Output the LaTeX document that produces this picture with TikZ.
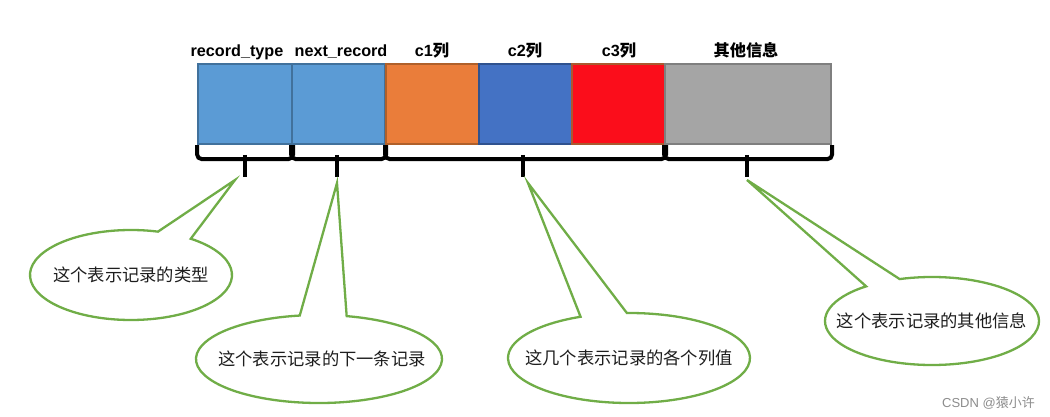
\documentclass[tikz,border=0pt]{standalone}
\usepackage{fontspec}
\setmainfont{Liberation Sans}
\newfontfamily\cjk{Noto Sans CJK SC}
\definecolor{blueA}{HTML}{5B9BD5}
\definecolor{blueAd}{HTML}{41719C}
\definecolor{orangeA}{HTML}{EA7D3A}
\definecolor{orangeAd}{HTML}{B0602A}
\definecolor{blueB}{HTML}{4472C4}
\definecolor{blueBd}{HTML}{2F528F}
\definecolor{redA}{HTML}{FB0D1B}
\definecolor{redAd}{HTML}{A85A30}
\definecolor{grayA}{HTML}{A5A5A5}
\definecolor{grayAd}{HTML}{7F7F7F}
\definecolor{greenA}{HTML}{70AD47}
\definecolor{txt}{HTML}{1E1E1E}
\tikzset{
  cellbox/.style={rectangle, line width=2.2pt, inner sep=0pt, minimum height=80pt, anchor=north west},
  lbl/.style={anchor=base, font=\fontsize{16.2}{19}\selectfont\bfseries, text=black},
  brace/.style={line width=4pt, rounded corners=5pt, black},
  stem/.style={line width=4.5pt, black},
  bubble/.style={draw=greenA, line width=2.3pt, fill=white, line join=miter},
  btext/.style={font=\fontsize{17.3}{20}\selectfont\cjk, text=txt, inner sep=0pt},
}
\newcommand\mybubble[6]{% #1 centre node, #2 rx, #3 ry, #4 start, #5 end, #6 tip
  \draw[bubble] (#6) -- ([shift={(#1.center)}]#4:#2 and #3)
    arc[start angle=#4, end angle=#5, x radius=#2, y radius=#3] -- cycle;}
\begin{document}
\begin{tikzpicture}[x=1pt,y=1pt]
\useasboundingbox (0,0) rectangle (1050,-417);
% cells
\node[cellbox, fill=blueA, draw=blueAd, minimum width=94pt] (b1) at (197,-63) {};
\node[cellbox, fill=blueA, draw=blueAd, minimum width=93pt] (b2) at (291,-63) {};
\node[cellbox, fill=orangeA, draw=orangeAd, minimum width=93pt] (b3) at (385,-63) {};
\node[cellbox, fill=blueB, draw=blueBd, minimum width=93pt] (b4) at (478,-63) {};
\node[cellbox, fill=redA, draw=redAd, minimum width=93pt] (b5) at (571,-63) {};
\node[cellbox, fill=grayA, draw=grayAd, minimum width=166pt] (b6) at (664,-63) {};
% labels
\node[lbl] (l1) at (237,-57) {record\_type};
\node[lbl] (l2) at (341,-57) {next\_record};
\node[lbl] (l3) at (432,-57) {c1{\cjk\bfseries 列}};
\node[lbl] (l4) at (525,-57) {c2{\cjk\bfseries 列}};
\node[lbl] (l5) at (619,-57) {c3{\cjk\bfseries 列}};
\node[lbl] (l6) at (746,-57) {{\cjk\bfseries 其他信息}};
% braces
\draw[brace] (b1.south west) -- ++(0,-14) -| (b1.south east);
\draw[brace] (b2.south west) -- ++(0,-14) -| (b2.south east);
\draw[brace] (b3.south west) -- ++(0,-14) -| (b5.south east);
\draw[brace] (b6.south west) -- ++(0,-14) -| (b6.south east);
\coordinate (s1) at (245,-155);
\coordinate (s2) at (337,-155);
\coordinate (s3) at (523,-155);
\coordinate (s4) at (747,-155);
\coordinate (e1) at (245,-177);
\coordinate (e2) at (337,-177);
\coordinate (e3) at (523,-177);
\coordinate (e4) at (747,-177);
\draw[stem] (s1) -- (e1);
\draw[stem] (s2) -- (e2);
\draw[stem] (s3) -- (e3);
\draw[stem] (s4) -- (e4);
% pointer tips
\coordinate (p1) at (235,-180);
\coordinate (p2) at (337,-183);
\coordinate (p3) at (528,-183);
\coordinate (p4) at (747,-180);
% bubble centres (text)
\coordinate (c1) at (131,-275);
\coordinate (c2) at (319,-359);
\coordinate (c3) at (629,-358);
\coordinate (c4) at (932,-321);
\mybubble{c1}{101}{45}{53.7}{-285.5}{p1}
\mybubble{c2}{123}{44}{77}{-261}{p2}
\mybubble{c3}{121}{45}{91}{-246.4}{p3}
\mybubble{c4}{107}{44}{107.6}{-232}{p4}
\node[btext] (t1) at (c1) {这个表示记录的类型};
\node[btext] (t2) at ([xshift=3pt]c2) {这个表示记录的下一条记录};
\node[btext] (t3) at (c3) {这几个表示记录的各个列值};
\node[btext] (t4) at (c4) {这个表示记录的其他信息};
% watermark
\node[anchor=base east, font=\fontsize{13}{15}\selectfont, text=black!45, inner sep=0pt] (wm) at (1035,-407) {CSDN @{\cjk 猿小许}};
\end{tikzpicture}
\end{document}
